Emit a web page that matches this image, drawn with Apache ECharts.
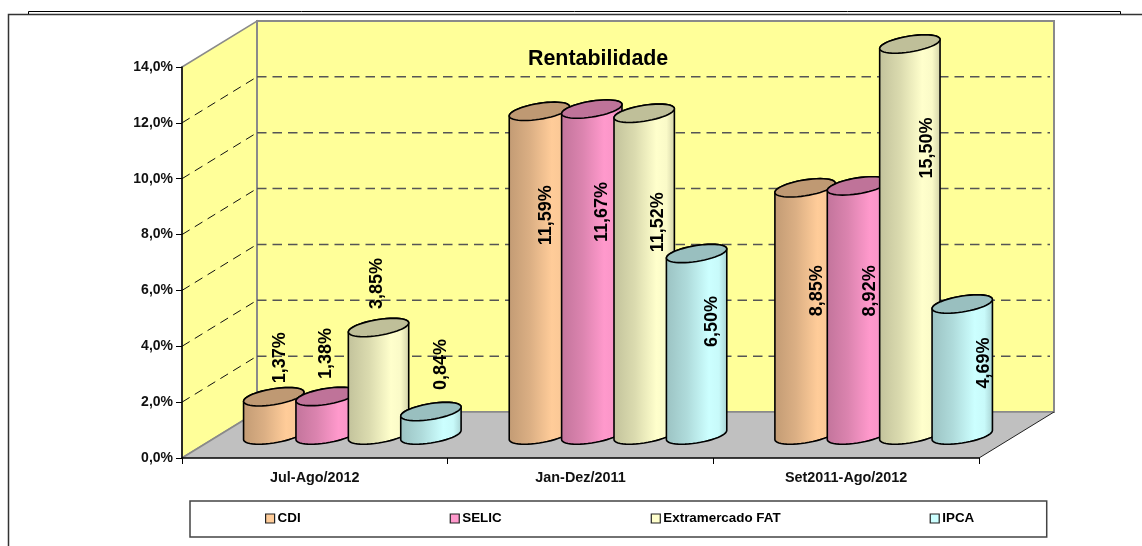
<!DOCTYPE html>
<html><head><meta charset="utf-8">
<style>html,body{margin:0;padding:0;background:#fff}#c{width:1142px;height:546px}</style>
<script src="https://cdn.jsdelivr.net/npm/echarts@6/dist/echarts.min.js"></script>
</head><body><div id="c"></div>
<script>
const categories = ['Jul-Ago/2012', 'Jan-Dez/2011', 'Set2011-Ago/2012'];
const seriesNames = ['CDI', 'SELIC', 'Extramercado FAT', 'IPCA'];
const cdi = [1.37, 11.59, 8.85];
const selic = [1.38, 11.67, 8.92];
const fat = [3.85, 11.52, 15.50];
const ipca = [0.84, 6.50, 4.69];
const seriesValues = [cdi, selic, fat, ipca];
const seriesColors = ['#FFCC99', '#FF99CC', '#FFFFCC', '#CCFFFF'];
const gridTicks = [2, 4, 6, 8, 10, 12];
// label placement relative to the top of each cylinder, by series then category
const labelNudges = [
  [[6, -39], [7, 104], [12, 103]],
  [[0, -43], [10, 103], [13, 105]],
  [[-1, -44], [14, 109], [17, 104]],
  [[10, -47], [15, 68], [22, 59]]
];
const FONT = '"Liberation Sans", Arial, sans-serif';
const DEPTH = [75, -46], AXMAX = 14, BAR_RATIO = 0.1972, FOOT = 0.2;

function shade(hex, f) {
  const n = parseInt(hex.slice(1), 16);
  const c = [n >> 16, (n >> 8) & 255, n & 255].map(v => Math.round(v * f));
  return 'rgb(' + c.join(',') + ')';
}
function renderWalls(params, api) {
  const g = params.coordSys, x0 = g.x, x1 = g.x + g.width;
  const y = v => api.coord([0, v])[1];
  const d = DEPTH, y0 = y(0), yt = y(AXMAX);
  const children = [
    { type: 'polygon', shape: { points: [[x0, y0], [x0 + d[0], y0 + d[1]], [x0 + d[0], yt + d[1]], [x0, yt]] },
      style: { fill: '#FFFF99', stroke: '#8a8a8a', lineWidth: 1.5 } },
    { type: 'rect', shape: { x: x0 + d[0], y: yt + d[1], width: g.width, height: y0 - yt },
      style: { fill: '#FFFF99', stroke: '#8a8a8a', lineWidth: 2 } },
    { type: 'polygon', shape: { points: [[x0, y0], [x1, y0], [x1 + d[0], y0 + d[1]], [x0 + d[0], y0 + d[1]]] },
      style: { fill: '#C0C0C0', stroke: null } },
    { type: 'line', shape: { x1: x0 + d[0], y1: y0 + d[1], x2: x1 + d[0], y2: y0 + d[1] },
      style: { stroke: '#8a8a8a', lineWidth: 1.5 } },
    { type: 'line', shape: { x1: x0, y1: y0, x2: x0 + d[0], y2: y0 + d[1] },
      style: { stroke: '#8a8a8a', lineWidth: 1.5 } },
    { type: 'line', shape: { x1: x1, y1: y0, x2: x1 + d[0], y2: y0 + d[1] },
      style: { stroke: '#222', lineWidth: 1 } }
  ];
  gridTicks.forEach(v => {
    const yy = y(v);
    children.push({ type: 'line', shape: { x1: x0, y1: yy, x2: x0 + d[0], y2: yy + d[1] },
      style: { stroke: '#111', lineWidth: 1, lineDash: [9, 6] } });
    children.push({ type: 'line', shape: { x1: x0 + d[0], y1: yy + d[1], x2: x1 + d[0] - 4, y2: yy + d[1] },
      style: { stroke: '#555', lineWidth: 1.5, lineDash: [9.5, 6] } });
  });
  return { type: 'group', children };
}
function cylinder(si) {
  return function (params, api) {
    const ci = api.value(0), v = api.value(1), band = api.size([1, 0])[0], w = band * BAR_RATIO;
    const front = api.coord([ci, Math.min(v, AXMAX)]), base = api.coord([ci, 0]);
    const cx = front[0] + (si - 1.5) * w + DEPTH[0] * .5;
    const yTop = front[1] + DEPTH[1] * .5, yBot = base[1] + DEPTH[1] * .5;
    const R = w / 2, sx = DEPTH[0] * FOOT, sy = DEPTH[1] * FOOT;
    const pt = (t, cy) => [cx + R * Math.cos(t) + sx * Math.sin(t), cy + sy * Math.sin(t)];
    const t0 = Math.atan2(sx, R), top = [], side = [], N = 48;
    for (let k = 0; k < N; k++) top.push(pt(k / N * 2 * Math.PI, yTop));
    for (let k = 0; k <= N / 2; k++) side.push(pt(t0 + k / N * 2 * Math.PI, yTop));
    for (let k = 0; k <= N / 2; k++) side.push(pt(t0 + Math.PI + k / N * 2 * Math.PI, yBot));
    const col = seriesColors[si], nudge = labelNudges[si][ci];
    const grad = { type: 'linear', x: 0, y: 0, x2: 1, y2: 0, colorStops: [
      { offset: 0, color: shade(col, .76) }, { offset: .35, color: shade(col, .86) },
      { offset: .7, color: shade(col, 1) }, { offset: .86, color: shade(col, .98) },
      { offset: 1, color: shade(col, .82) }] };
    return { type: 'group', children: [
      { type: 'polygon', shape: { points: side }, style: { fill: grad, stroke: '#000', lineWidth: 1.6 } },
      { type: 'polygon', shape: { points: top }, style: { fill: shade(col, .75), stroke: '#000', lineWidth: 1.6 } },
      { type: 'text', x: cx + nudge[0], y: yTop + nudge[1], rotation: Math.PI / 2, z2: 10,
        style: { text: v.toFixed(2).replace('.', ',') + '%', fill: '#000', align: 'center', verticalAlign: 'middle',
          font: 'bold 18px ' + FONT } }
    ] };
  };
}
const chart = echarts.init(document.getElementById('c'), null, { renderer: 'canvas' });
chart.setOption({
  animation: false,
  backgroundColor: '#fff',
  title: { text: 'Rentabilidade', left: 523, top: 44,
    textStyle: { fontFamily: FONT, fontWeight: 'bold', fontSize: 21.4, color: '#000' } },
  grid: { left: 182, top: 67, width: 797, height: 391 },
  legend: {
    left: 190, top: 501, padding: [11, 72.5, 12, 75], itemGap: 149, itemWidth: 9, itemHeight: 9,
    borderColor: '#444', borderWidth: 1.5, borderRadius: 0,
    textStyle: { fontFamily: FONT, fontWeight: 'bold', fontSize: 13.4, color: '#000', padding: [0, 0, 0, -2] },
    data: seriesNames.map((n, i) => ({ name: n, icon: 'rect',
      itemStyle: { color: seriesColors[i], borderColor: '#222', borderWidth: 1.2 } }))
  },
  xAxis: { type: 'category', data: categories, z: 5,
    axisLine: { lineStyle: { color: '#000', width: 1.5 } },
    axisTick: { show: true, length: 6, lineStyle: { color: '#000' } },
    axisLabel: { fontFamily: FONT, fontWeight: 'bold', fontSize: 14.4, color: '#111', margin: 13 } },
  yAxis: { type: 'value', min: 0, max: AXMAX, interval: 2, z: 5,
    splitLine: { show: false },
    axisLine: { show: true, lineStyle: { color: '#000', width: 1.5 } },
    axisTick: { show: true, length: 6, lineStyle: { color: '#000' } },
    axisLabel: { fontFamily: FONT, fontWeight: 'bold', fontSize: 14, color: '#111', margin: 9,
      padding: [2, 0, 0, 0],
      formatter: v => v.toFixed(1).replace('.', ',') + '%' } },
  graphic: [
    { type: 'polyline', silent: true, shape: { points: [[8.5, 546], [8.5, 14.5], [1142, 14.5]] },
      style: { stroke: '#333', lineWidth: 1.5, fill: null } },
    { type: 'polyline', silent: true, shape: { points: [[28.5, 14], [28.5, 11.5], [1120.5, 11.5], [1120.5, 14]] },
      style: { stroke: '#000', lineWidth: 1, fill: null } }
  ],
  series: [
    { type: 'custom', name: 'walls', coordinateSystem: 'cartesian2d', z: 1, clip: false, silent: true,
      renderItem: renderWalls, data: [[0, 0]], encode: { x: 0, y: 1 } }
  ].concat(seriesNames.map((n, si) => ({
    type: 'custom', name: n, coordinateSystem: 'cartesian2d', z: 2 + si, clip: false,
    itemStyle: { color: seriesColors[si] },
    renderItem: cylinder(si), encode: { x: 0, y: 1 },
    data: seriesValues[si].map((v, i) => [i, v])
  })))
});
</script></body></html>
